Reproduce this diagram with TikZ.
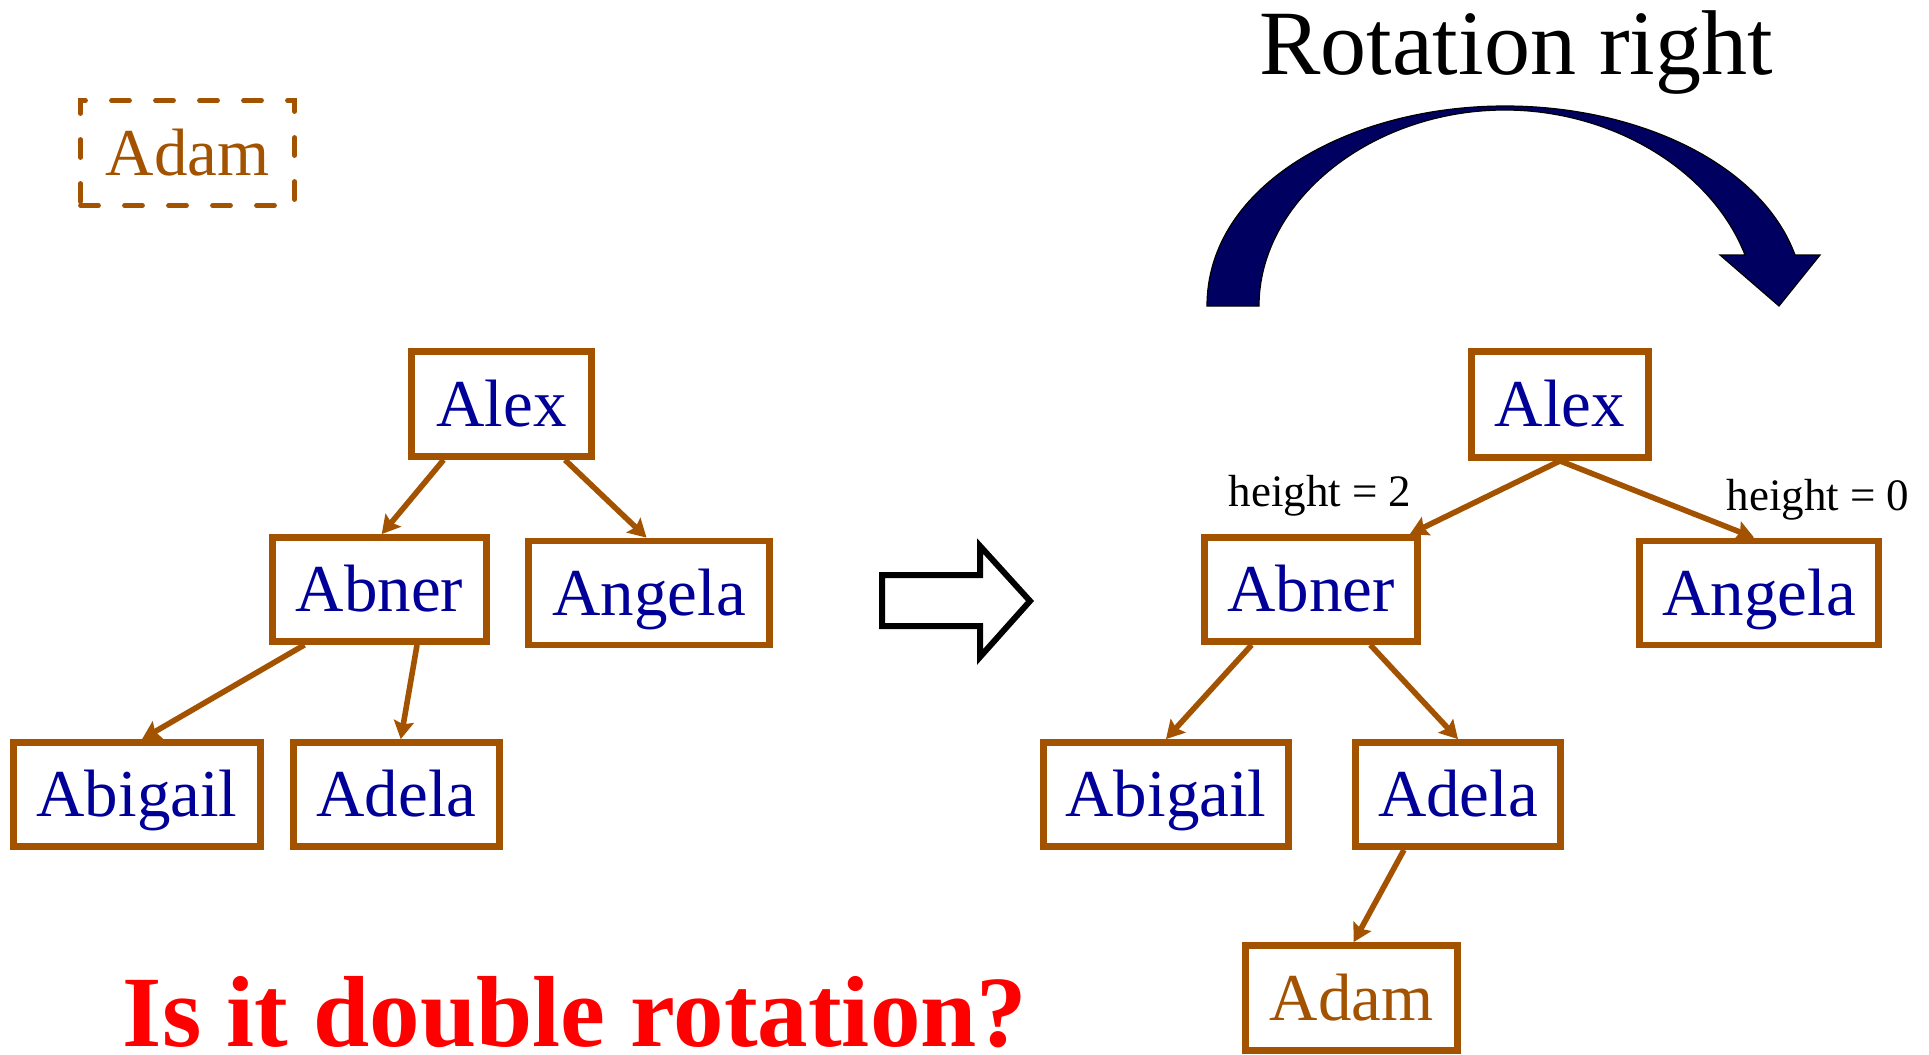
\documentclass[tikz,border=0pt]{standalone}
\usepackage{fontspec}
\setmainfont{Liberation Serif}
\usetikzlibrary{calc,arrows.meta}
\definecolor{brownc}{RGB}{163,82,0}
\definecolor{bluec}{RGB}{0,0,153}
\definecolor{navyc}{RGB}{0,0,96}
\definecolor{redc}{RGB}{255,0,0}
\tikzset{
  treebox/.style={draw=brownc, line width=3.4pt, fill=white, text=bluec, inner sep=0pt,
    minimum height=52pt, text height=22pt, text depth=0pt,
    font=\fontsize{33.5}{40}\selectfont},
  newbox/.style={treebox, text=brownc},
  dashbox/.style={treebox, fill=none, text=brownc, line width=2.4pt, line cap=round,
    dash pattern=on 9pt off 13pt},
  edge/.style={draw=brownc, line width=2.8pt, -{Stealth[length=9pt,width=10pt,inset=1.5pt]}},
  hlabel/.style={anchor=base, inner sep=0pt, font=\fontsize{22.5}{27}\selectfont},
}
\begin{document}
\begin{tikzpicture}[x=0.5pt,y=-0.5pt]
\useasboundingbox (0,0) rectangle (1929,1055);

% title
\node[anchor=base, inner sep=0pt, font=\fontsize{46}{52}\selectfont] (title) at (1516,74) {Rotation right};

% curved rotation arrow
\draw[fill=navyc, draw=black, line width=0.6pt, line join=miter]
  (1207,306) .. controls (1207,185) and (1350,106) .. (1505,106)
  .. controls (1640,106) and (1762,165) .. (1795,255)
  -- (1820,255) -- (1779,306) -- (1720,255) -- (1745,255)
  .. controls (1712,170) and (1612,110) .. (1505,110)
  .. controls (1372,110) and (1259,200) .. (1259,306) -- cycle;

% dashed Adam
\node[dashbox, minimum width=107pt, minimum height=52.5pt] (adamD) at (187.5,153) {Adam};

% left tree
\node[treebox, minimum width=90pt, minimum height=52.5pt] (aL) at (501.5,404) {Alex};
\node[treebox, minimum width=107pt] (bL) at (379.5,589.5) {Abner};
\node[treebox, minimum width=120.5pt] (cL) at (649,593) {Angela};
\node[treebox, minimum width=123.5pt] (dL) at (137,794.5) {Abigail};
\node[treebox, minimum width=103pt] (eL) at (396.5,794.5) {Adela};

\draw[edge] ($(aL.south west)!0.19!(aL.south east)$) -- ($(bL.north west)!0.51!(bL.north east)$);
\draw[edge] ($(aL.south west)!0.84!(aL.south east)$) -- ($(cL.north west)!0.49!(cL.north east)$);
\draw[edge] ($(bL.south west)!0.16!(bL.south east)$) -- ($(dL.north west)!0.52!(dL.north east)$);
\draw[edge] ($(bL.south west)!0.67!(bL.south east)$) -- ($(eL.north west)!0.52!(eL.north east)$);

% hollow arrow
\draw[line width=3pt, line join=miter, fill=white] (882,575) -- (980,575) -- (980,546) -- (1030,601)
  -- (980,657) -- (980,626) -- (882,626) -- cycle;

% right tree
\node[treebox, minimum width=88.5pt, minimum height=53pt] (aR) at (1560,404.5) {Alex};
\node[treebox, minimum width=106.5pt] (bR) at (1311,589.5) {Abner};
\node[treebox, minimum width=119.5pt] (cR) at (1759,593) {Angela};
\node[treebox, minimum width=122.5pt] (dR) at (1166,794.5) {Abigail};
\node[treebox, minimum width=102.5pt] (eR) at (1458,794.5) {Adela};
\node[newbox, minimum width=106pt, minimum height=52.5pt] (fR) at (1351.5,998) {Adam};

\draw[edge] (aR.south) -- ($(bR.north west)!0.95!(bR.north east)$);
\draw[edge] (aR.south) -- ($(cR.north west)!0.48!(cR.north east)$);
\draw[edge] ($(bR.south west)!0.23!(bR.south east)$) -- ($(dR.north west)!0.5!(dR.north east)$);
\draw[edge] ($(bR.south west)!0.77!(bR.south east)$) -- ($(eR.north west)!0.5!(eR.north east)$);
\draw[edge] ($(eR.south west)!0.245!(eR.south east)$) -- ($(fR.north west)!0.51!(fR.north east)$);

% height labels
\node[hlabel] (h2) at (1320,506) {height = 2};
\node[hlabel] (h0) at (1818,510) {height = 0};

% question
\node[anchor=base, inner sep=0pt, text=redc, font=\fontsize{50.5}{56}\selectfont\bfseries] (q) at (575,1046) {Is it double rotation?};
\end{tikzpicture}
\end{document}
